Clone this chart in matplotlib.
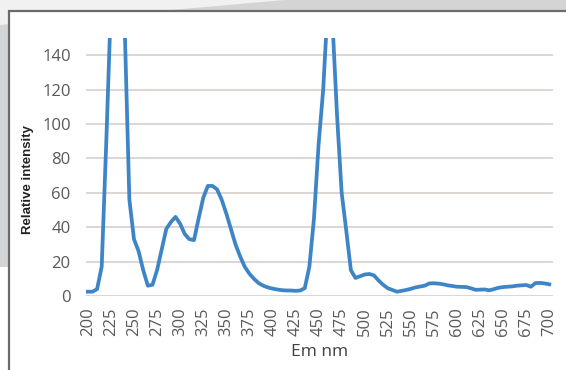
import numpy as np
import matplotlib
matplotlib.use("Agg")
import matplotlib.pyplot as plt
from matplotlib.patches import Polygon, Rectangle

W, H = 566, 370

# emission wavelength (nm), 5 nm steps
wavelength = list(range(200, 705, 5))
# relative intensity (peaks go off scale, clipped at 150)
intensity = [
    2.5, 2.5, 4, 17, 90, 170, 300, 300, 155, 56,        # 200-245
    33, 26, 15, 6, 6.5, 15, 27, 39, 43, 46,            # 250-295
    42, 36, 33, 32.5, 45, 57, 64, 64, 62, 56,          # 300-345
    48, 39, 30, 23, 17, 13, 10, 7.5, 6, 5,             # 350-395
    4.3, 3.8, 3.4, 3.2, 3.2, 3, 3.2, 4.5, 17, 45,      # 400-445
    88, 120, 170, 160, 105, 60, 38, 15, 10.5, 11.5,    # 450-495
    12.5, 12.8, 12, 9, 6.5, 4.5, 3.5, 2.5, 3, 3.5,     # 500-545
    4.2, 5, 5.5, 6, 7.3, 7.4, 7.2, 6.8, 6.2, 5.8,      # 550-595
    5.4, 5.3, 5.2, 4.5, 3.6, 3.7, 3.8, 3.3, 4, 4.8,    # 600-645
    5.2, 5.4, 5.6, 6, 6.2, 6.4, 5.4, 7.5, 7.6, 7.3,    # 650-695
    6.8,                                               # 700
]
xticks = list(range(200, 725, 25))
yticks = [0, 20, 40, 60, 80, 100, 120, 140]


def fx(px):
    return px / W


def fy(py):
    return 1 - py / H


fig = plt.figure(figsize=(W / 100, H / 100), dpi=100)
fig.patch.set_facecolor("white")

# page background behind the chart box
fig.patches.append(Rectangle((0, fy(30)), 1, 1, transform=fig.transFigure,
                             facecolor="#f1f1f1", edgecolor="none", zorder=-3))
gray = [(0, 25), (285, 0), (566, 0), (566, 267), (0, 267)]
fig.patches.append(Polygon([(fx(a), fy(b)) for a, b in gray], closed=True,
                           transform=fig.transFigure, facecolor="#d3d4d6",
                           edgecolor="none", zorder=-2))
fig.patches.append(Rectangle((fx(8.5), fy(380)), fx(600), fy(10.5) - fy(380),
                             transform=fig.transFigure, facecolor="white",
                             edgecolor="#6b6b6b", linewidth=1.6, zorder=-1))

ax = fig.add_axes([fx(86), fy(296), fx(553) - fx(86), fy(38) - fy(296)])
ax.set_facecolor("none")
ax.plot(wavelength, intensity, color="#3d85c6", linewidth=2.7,
        solid_joinstyle="round", zorder=3)
ax.set_xlim(198, 704)
ax.set_ylim(0, 150)
ax.set_yticks(yticks)
ax.set_xticks(xticks)
ax.set_xticklabels([str(t) for t in xticks], rotation=90)
ax.grid(axis="y", color="#d6d0cc", linewidth=1.2)
ax.set_axisbelow(True)
for s in ax.spines.values():
    s.set_visible(False)
ax.tick_params(axis="both", length=0, labelcolor="#595959", labelsize=12)
ax.tick_params(axis="y", pad=11)
ax.tick_params(axis="x", pad=8)
for lab in ax.get_xticklabels() + ax.get_yticklabels():
    lab.set_family("Open Sans")

fig.text(fx(320), fy(352), "Em nm", ha="center", va="center",
         fontsize=12.5, color="#404040", family="Open Sans")
fig.text(fx(28), fy(180), "Relative intensity", ha="center", va="center",
         rotation=90, fontsize=9.5, fontweight="bold", color="#222222",
         family="Liberation Sans")

fig.savefig("out.png", dpi=100)
